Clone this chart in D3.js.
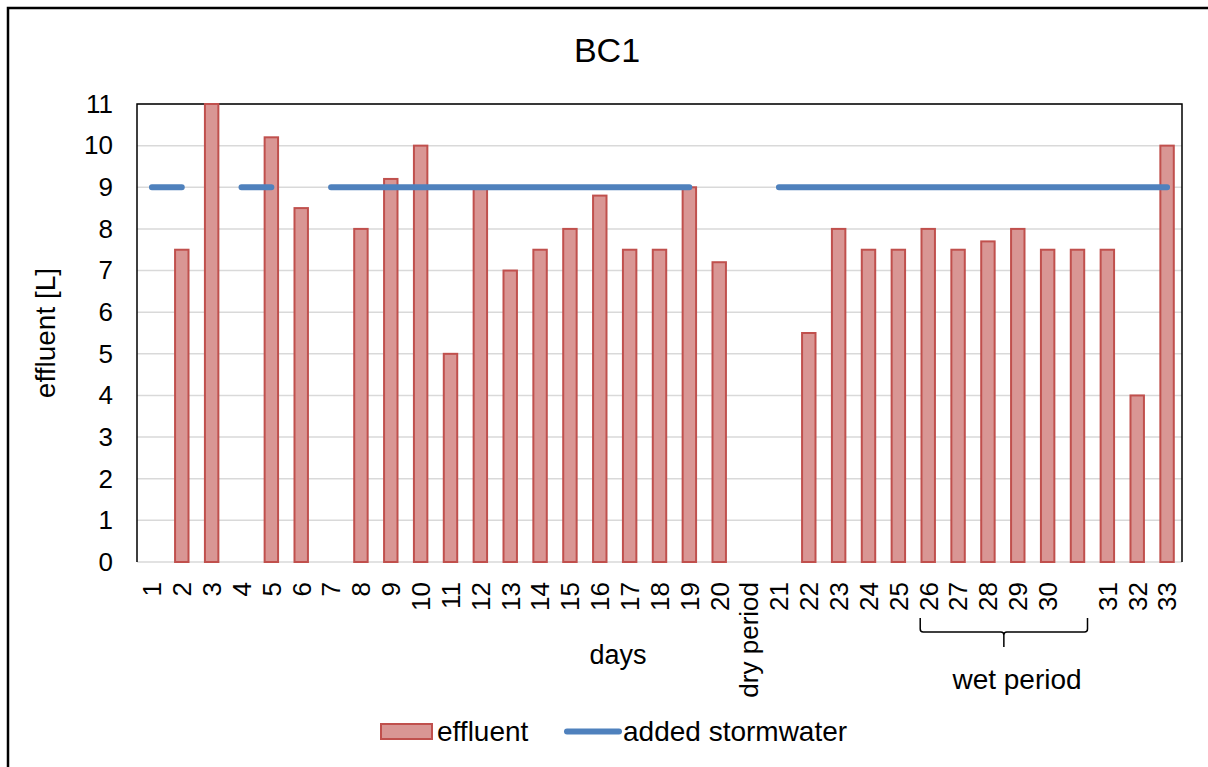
<!DOCTYPE html>
<html>
<head>
<meta charset="utf-8">
<script src="https://cdn.jsdelivr.net/npm/d3@7"></script>
<style>
  body { margin: 0; background: #fff; }
  svg { font-family: "Liberation Sans", Arial, sans-serif; }
</style>
</head>
<body>
<svg id="chart" width="1208" height="767"></svg>
<script>
// categories along the x axis (one empty slot between 30 and 31)
const dayLabels = ["1","2","3","4","5","6","7","8","9","10","11","12","13","14","15","16","17","18","19","20",
  "dry period","21","22","23","24","25","26","27","28","29","30","","31","32","33"];
// effluent [L], null = no bar
const effluent = [null,7.5,11,null,10.2,8.5,null,8,9.2,10,5,9,7,7.5,8,8.8,7.5,7.5,9,7.2,
  null,null,5.5,8,7.5,7.5,8,7.5,7.7,8,7.5,7.5,7.5,4,10];
// added stormwater [L], null = gap in line
const stormwater = [9,9,null,9,9,null,9,9,9,9,9,9,9,9,9,9,9,9,9,null,
  null,9,9,9,9,9,9,9,9,9,9,9,9,9,9];
const yTicks = [0,1,2,3,4,5,6,7,8,9,10,11];

const svg = d3.select("#chart");
const margin = {left: 137, right: 1182, top: 104, bottom: 562};

const idx = dayLabels.map((d, i) => i);
const x = d3.scaleBand().domain(idx).range([margin.left, margin.right])
  .paddingInner(0.55).paddingOuter(0.275);
const y = d3.scaleLinear().domain([0, 11]).range([margin.bottom, margin.top]);

// outer frame (only left and top edges visible)
svg.append("path")
  .attr("d", "M8,767 L8,8 L1208,8")
  .attr("fill", "none").attr("stroke", "#000").attr("stroke-width", 2.5);

// title
svg.append("text").attr("x", 607).attr("y", 62)
  .attr("text-anchor", "middle").attr("font-size", 34).text("BC1");

// gridlines
svg.append("g").selectAll("line").data(yTicks).join("line")
  .attr("x1", margin.left).attr("x2", margin.right)
  .attr("y1", d => y(d)).attr("y2", d => y(d))
  .attr("stroke", "#d9d9d9").attr("stroke-width", 1.5);

// plot border: left, top, right in black
svg.append("path")
  .attr("d", `M${margin.left},${margin.bottom} L${margin.left},${margin.top} L${margin.right},${margin.top} L${margin.right},${margin.bottom}`)
  .attr("fill", "none").attr("stroke", "#000").attr("stroke-width", 1.5);

// y axis labels
const yAxis = svg.append("g").attr("transform", `translate(${margin.left},0)`)
  .call(d3.axisLeft(y).tickValues(yTicks).tickSize(0).tickPadding(24));
yAxis.select(".domain").remove();
yAxis.selectAll("text").attr("font-size", 26).attr("fill", "#000")
  .attr("font-family", "Liberation Sans, Arial, sans-serif");

svg.append("text")
  .attr("transform", `translate(55,${(margin.top + margin.bottom) / 2}) rotate(-90)`)
  .attr("text-anchor", "middle").attr("font-size", 28).text("effluent [L]");

// x axis labels
const xAxis = svg.append("g").attr("transform", `translate(0,${margin.bottom})`)
  .call(d3.axisBottom(x).tickSize(0).tickFormat(i => dayLabels[i]));
xAxis.select(".domain").remove();
xAxis.selectAll("text")
  .attr("transform", "rotate(-90)")
  .attr("text-anchor", "end")
  .attr("x", -20).attr("y", 0).attr("dy", "0.36em")
  .attr("font-size", 26).attr("fill", "#000")
  .attr("font-family", "Liberation Sans, Arial, sans-serif");

svg.append("text").attr("x", 618).attr("y", 664)
  .attr("text-anchor", "middle").attr("font-size", 27).text("days");

// bars
svg.append("g").selectAll("rect")
  .data(effluent.map((v, i) => ({i, v})).filter(d => d.v != null))
  .join("rect")
  .attr("x", d => x(d.i)).attr("width", x.bandwidth())
  .attr("y", d => y(d.v)).attr("height", d => y(0) - y(d.v))
  .attr("fill", "#d99694").attr("stroke", "#c0504d").attr("stroke-width", 2);

// stormwater line
const line = d3.line()
  .defined(d => d.v != null)
  .x(d => x(d.i) + x.bandwidth() / 2)
  .y(d => y(d.v));
svg.append("path")
  .datum(stormwater.map((v, i) => ({i, v})))
  .attr("d", line)
  .attr("fill", "none").attr("stroke", "#4f81bd")
  .attr("stroke-width", 6).attr("stroke-linecap", "round");

// wet period brace
const bx0 = x(26) + x.bandwidth() / 2 - 8;
const bx1 = x(31) + x.bandwidth() / 2 + 10;
const bm = (bx0 + bx1) / 2;
const by0 = 618, by1 = 632, by2 = 647;
svg.append("path")
  .attr("d", `M${bx0},${by0} L${bx0},${by1 - 3} Q${bx0},${by1} ${bx0 + 3},${by1} L${bm - 3},${by1} Q${bm},${by1} ${bm},${by1 + 3} L${bm},${by2}
              M${bm},${by1 + 3} Q${bm},${by1} ${bm + 3},${by1} L${bx1 - 3},${by1} Q${bx1},${by1} ${bx1},${by1 - 3} L${bx1},${by0}`)
  .attr("fill", "none").attr("stroke", "#000").attr("stroke-width", 1.5);
svg.append("text").attr("x", 1017).attr("y", 689)
  .attr("text-anchor", "middle").attr("font-size", 28).text("wet period");

// legend
const lg = svg.append("g");
lg.append("rect").attr("x", 381).attr("y", 724).attr("width", 51).attr("height", 15)
  .attr("fill", "#d99694").attr("stroke", "#c0504d").attr("stroke-width", 2);
lg.append("text").attr("x", 437).attr("y", 741).attr("font-size", 28).text("effluent");
lg.append("line").attr("x1", 567).attr("x2", 619).attr("y1", 731.5).attr("y2", 731.5)
  .attr("stroke", "#4f81bd").attr("stroke-width", 6).attr("stroke-linecap", "round");
lg.append("text").attr("x", 623).attr("y", 741).attr("font-size", 28).text("added stormwater");
</script>
</body>
</html>
